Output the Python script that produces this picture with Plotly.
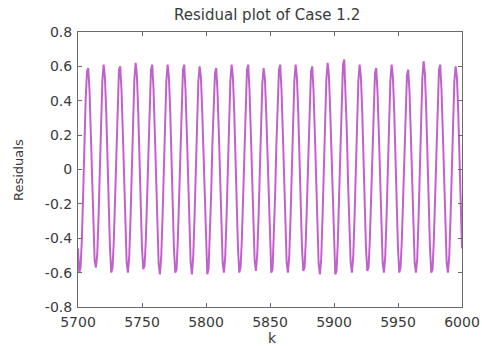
import plotly.graph_objects as go

# sample index k and the residual at each sample
k = list(range(5700, 6001))
residuals = [
    -0.46, -0.60, -0.57, -0.41, -0.15, 0.15, 0.41, 0.57, 0.59, 0.46, 0.22, -0.08, -0.35, -0.53, -0.57, -0.50, -0.29, 0.00, 0.29, 0.51, 0.61, 0.54, 0.35, 0.08, -0.22,
    -0.46, -0.60, -0.57, -0.41, -0.15, 0.15, 0.41, 0.58, 0.60, 0.46, 0.22, -0.08, -0.35, -0.54, -0.60, -0.51, -0.29, 0.00, 0.30, 0.52, 0.62, 0.55, 0.35, 0.08, -0.22,
    -0.46, -0.58, -0.56, -0.41, -0.15, 0.15, 0.42, 0.58, 0.61, 0.47, 0.22, -0.08, -0.36, -0.55, -0.61, -0.51, -0.29, 0.01, 0.29, 0.51, 0.61, 0.54, 0.35, 0.08, -0.22,
    -0.47, -0.60, -0.58, -0.41, -0.15, 0.15, 0.41, 0.58, 0.61, 0.46, 0.22, -0.08, -0.35, -0.54, -0.61, -0.51, -0.29, 0.00, 0.29, 0.51, 0.60, 0.54, 0.35, 0.08, -0.22,
    -0.46, -0.61, -0.58, -0.41, -0.15, 0.15, 0.40, 0.56, 0.59, 0.45, 0.22, -0.08, -0.35, -0.54, -0.60, -0.51, -0.29, 0.00, 0.29, 0.51, 0.61, 0.54, 0.35, 0.08, -0.22,
    -0.46, -0.60, -0.57, -0.41, -0.15, 0.15, 0.41, 0.58, 0.61, 0.46, 0.22, -0.08, -0.35, -0.53, -0.59, -0.50, -0.29, 0.00, 0.28, 0.50, 0.59, 0.53, 0.34, 0.08, -0.22,
    -0.46, -0.60, -0.58, -0.41, -0.15, 0.15, 0.41, 0.58, 0.61, 0.46, 0.22, -0.08, -0.35, -0.54, -0.60, -0.51, -0.29, 0.00, 0.29, 0.51, 0.61, 0.54, 0.35, 0.08, -0.22,
    -0.46, -0.59, -0.57, -0.41, -0.15, 0.15, 0.41, 0.57, 0.60, 0.46, 0.22, -0.08, -0.35, -0.55, -0.61, -0.52, -0.29, 0.00, 0.30, 0.52, 0.62, 0.55, 0.35, 0.08, -0.22,
    -0.47, -0.61, -0.59, -0.42, -0.15, 0.16, 0.43, 0.61, 0.64, 0.48, 0.23, -0.08, -0.35, -0.54, -0.60, -0.51, -0.29, 0.00, 0.29, 0.51, 0.61, 0.54, 0.35, 0.08, -0.22,
    -0.46, -0.59, -0.57, -0.41, -0.15, 0.15, 0.40, 0.56, 0.59, 0.45, 0.22, -0.08, -0.35, -0.54, -0.60, -0.51, -0.29, 0.00, 0.29, 0.51, 0.61, 0.54, 0.35, 0.08, -0.22,
    -0.46, -0.60, -0.57, -0.41, -0.15, 0.15, 0.40, 0.55, 0.58, 0.45, 0.21, -0.08, -0.35, -0.54, -0.60, -0.52, -0.30, 0.00, 0.30, 0.53, 0.63, 0.56, 0.36, 0.08, -0.22,
    -0.46, -0.60, -0.58, -0.41, -0.15, 0.15, 0.41, 0.58, 0.61, 0.46, 0.22, -0.08, -0.35, -0.54, -0.60, -0.51, -0.29, 0.00, 0.29, 0.51, 0.60, 0.54, 0.35, 0.08, -0.22,
    -0.46,
]

x_ticks = [5700, 5750, 5800, 5850, 5900, 5950, 6000]
y_ticks = [0.8, 0.6, 0.4, 0.2, 0, -0.2, -0.4, -0.6, -0.8]
y_tick_labels = ["0.8", "0.6", "0.4", "0.2", "0", "-0.2", "-0.4", "-0.6", "-0.8"]

W, H = 482, 346
L, R, T, B = 78, 20, 32, 39
plot_w = W - L - R
plot_h = H - T - B


def px_to_paper(px, py):
    """Convert a pixel position (from the top-left of the page) to paper coords."""
    return (px - L) / plot_w, (H - B - py) / plot_h


font_family = "DejaVu Sans"
text_col = "#3a3a3a"
axis_col = "#6a6a6a"

fig = go.Figure()
fig.add_trace(go.Scatter(
    x=k, y=residuals, mode="lines",
    line=dict(color="#c260cd", width=2),
    showlegend=False,
))

axis_common = dict(
    showgrid=False, zeroline=False, automargin=False,
    showline=True, linecolor=axis_col, linewidth=1,
    mirror="allticks", ticks="inside", ticklen=4,
    tickcolor=axis_col, tickwidth=1,
    tickfont=dict(family=font_family, size=14, color=text_col),
)

fig.update_xaxes(range=[5700, 6000], tickvals=x_ticks, ticklabelstandoff=2, **axis_common)
fig.update_yaxes(range=[-0.8, 0.8], tickvals=y_ticks, ticktext=y_tick_labels,
                 ticklabelstandoff=2, **axis_common)

title_x, title_y = px_to_paper(267, 15)
ylab_x, ylab_y = px_to_paper(18, 170)
klab_x, klab_y = px_to_paper(272, 338)

fig.update_layout(
    width=W, height=H,
    margin=dict(l=L, r=R, t=T, b=B, pad=0),
    paper_bgcolor="white", plot_bgcolor="white",
    annotations=[
        dict(text="Residual plot of Case 1.2", xref="paper", yref="paper",
             x=title_x, y=title_y, xanchor="center", yanchor="middle", showarrow=False,
             font=dict(family=font_family, size=15, color=text_col)),
        dict(text="Residuals", xref="paper", yref="paper",
             x=ylab_x, y=ylab_y, textangle=-90,
             xanchor="center", yanchor="middle", showarrow=False,
             font=dict(family=font_family, size=13, color=text_col)),
        dict(text="k", xref="paper", yref="paper",
             x=klab_x, y=klab_y, xanchor="center", yanchor="middle", showarrow=False,
             font=dict(family=font_family, size=14, color=text_col)),
    ],
)

fig.write_html("out.html")
